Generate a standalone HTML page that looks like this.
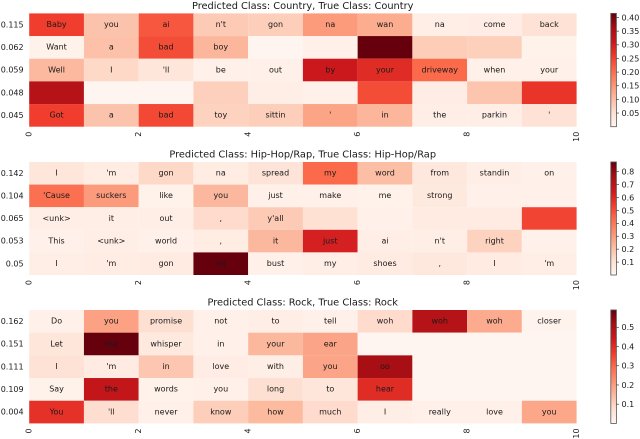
<!DOCTYPE html>
<html>
<head>
<meta charset="utf-8">
<title>Predicted class heatmaps</title>
<style>
html,body{margin:0;padding:0;background:#fff;}
body{width:640px;height:439px;overflow:hidden;}
svg{display:block;}
text{font-family:"DejaVu Sans","Liberation Sans",sans-serif;fill:#1a1a1a;}
</style>
</head>
<body>
<svg id="chart" xmlns="http://www.w3.org/2000/svg" width="640" height="439" viewBox="0 0 640 439"></svg>
<script>
const countryScores = ["0.115","0.062","0.059","0.048","0.045"];
const countryWords = [
  ["Baby","you","ai","n't","gon","na","wan","na","come","back"],
  ["Want","a","bad","boy","","","","","",""],
  ["Well","I","'ll","be","out","by","your","driveway","when","your"],
  ["","","","","","","","","",""],
  ["Got","a","bad","toy","sittin","'","in","the","parkin","'"]
];
const countryValues = [
  [0.257,0.092,0.228,0.083,0.076,0.145,0.122,0.017,0.021,0.046],
  [0.008,0.096,0.241,0.110,0.000,0.012,0.415,0.079,0.075,0.008],
  [0.106,0.062,0.038,0.012,0.012,0.311,0.282,0.208,0.012,0.012],
  [0.340,0.000,0.000,0.074,0.017,0.012,0.241,0.021,0.090,0.270],
  [0.257,0.092,0.245,0.072,0.076,0.133,0.110,0.017,0.017,0.046]
];
const countryTicks = ["0.05","0.10","0.15","0.20","0.25","0.30","0.35","0.40"];

const hiphopScores = ["0.142","0.104","0.065","0.053","0.05"];
const hiphopWords = [
  ["I","'m","gon","na","spread","my","word","from","standin","on"],
  ["'Cause","suckers","like","you","just","make","me","strong","",""],
  ["<unk>","it","out",",","y'all","","","","",""],
  ["This","<unk>","world",",","it","just","ai","n't","right",""],
  ["I","'m","gon","na","bust","my","shoes",",","I","'m"]
];
const hiphopValues = [
  [0.079,0.044,0.131,0.044,0.088,0.438,0.210,0.070,0.035,0.026],
  [0.420,0.306,0.018,0.226,0.026,0.026,0.018,0.061,0.026,0.026],
  [0.035,0.035,0.035,0.123,0.175,0.105,0.026,0.053,0.053,0.525],
  [0.026,0.035,0.026,0.044,0.226,0.630,0.035,0.035,0.149,0.026],
  [0.035,0.044,0.053,0.875,0.026,0.035,0.053,0.070,0.053,0.035]
];
const hiphopTicks = ["0.1","0.2","0.3","0.4","0.5","0.6","0.7","0.8"];

const rockScores = ["0.162","0.151","0.111","0.109","0.004"];
const rockWords = [
  ["Do","you","promise","not","to","tell","woh","woh","woh","closer"],
  ["Let","me","whisper","in","your","ear","","","",""],
  ["I","'m","in","love","with","you","oo","","",""],
  ["Say","the","words","you","long","to","hear","","",""],
  ["You","'ll","never","know","how","much","I","really","love","you"]
];
const rockValues = [
  [0.018,0.195,0.074,0.018,0.024,0.018,0.083,0.484,0.177,0.006],
  [0.053,0.590,0.041,0.018,0.153,0.189,0.000,0.000,0.000,0.000],
  [0.065,0.035,0.125,0.030,0.024,0.189,0.513,0.000,0.000,0.000],
  [0.012,0.460,0.012,0.018,0.074,0.053,0.401,0.000,0.000,0.000],
  [0.389,0.077,0.018,0.110,0.150,0.083,0.024,0.018,0.018,0.183]
];
const rockTicks = ["0.1","0.2","0.3","0.4","0.5"];

const xTickLabels = ["0","2","4","6","8","10"];
const redsStops = ["#fff5f0","#fee0d2","#fcbba1","#fc9272","#fb6a4a","#ef3b2c","#cb181d","#a50f15","#67000d"];

const SVG_NS = "http://www.w3.org/2000/svg";
const chart = document.getElementById("chart");
const plotLeft = 29.2, plotRight = 576.6, cbLeft = 610.8, cbRight = 616.4;

function hexToRgb(h){
  return [parseInt(h.slice(1,3),16),parseInt(h.slice(3,5),16),parseInt(h.slice(5,7),16)];
}
function reds(t){
  const c = Math.max(0,Math.min(1,t))*(redsStops.length-1);
  const i = Math.min(Math.floor(c),redsStops.length-2);
  const f = c-i, a = hexToRgb(redsStops[i]), b = hexToRgb(redsStops[i+1]);
  return "rgb("+a.map((v,k)=>Math.round(v+(b[k]-v)*f)).join(",")+")";
}
function make(tag,parent){
  const el = document.createElementNS(SVG_NS,tag);
  parent.appendChild(el);
  return el;
}
function setAll(el,props){
  for(const k in props){el.setAttribute(k,props[k]);}
  return el;
}
function addText(parent,str,x,y,size,anchor){
  const t = make("text",parent);
  setAll(t,{x:x,y:y,"font-size":size,"text-anchor":anchor});
  t.textContent = str;
  return t;
}

function drawPanel(key,title,titleY,top,bottom,scores,words,values,ticks,vmin,vmax){
  const nRows = values.length, nCols = values[0].length;
  const xScale = c => plotLeft + (plotRight-plotLeft)*c/nCols;
  const yScale = r => top + (bottom-top)*r/nRows;
  const colorScale = v => reds((v-vmin)/(vmax-vmin));
  const cbScale = v => bottom - (bottom-top)*(v-vmin)/(vmax-vmin);

  const g = make("g",chart);
  
  

  const titleEl = addText(g,title,302.7,titleY,9.8,"middle");
  
  

  for(let r=0;r<nRows;r++){
    for(let c=0;c<nCols;c++){
      const cell = make("rect",g);
      setAll(cell,{x:xScale(c),y:yScale(r),width:xScale(c+1)-xScale(c),height:yScale(r+1)-yScale(r),fill:colorScale(values[r][c])});
      
      
    }
  }
  for(let r=0;r<nRows;r++){
    for(let c=0;c<nCols;c++){
      if(!words[r][c]) continue;
      const w = addText(g,words[r][c],(xScale(c)+xScale(c+1))/2,(yScale(r)+yScale(r+1))/2+2.3,8,"middle");
      
      
    }
    const s = addText(g,scores[r],23.6,(yScale(r)+yScale(r+1))/2+2.6,8,"end");
    
    
  }
  xTickLabels.forEach(label=>{
    const x = xScale(parseFloat(label));
    const t = addText(g,label,x,bottom+5,8,"end");
    t.setAttribute("transform","rotate(-90 "+x+" "+(bottom+5)+")");
    t.setAttribute("text-anchor","end");
    t.setAttribute("dominant-baseline","central");
    
    
  });

  const cb = make("g",g);
  
  
  const steps = 60;
  for(let i=0;i<steps;i++){
    const f0 = i/steps, f1 = (i+1)/steps;
    const band = make("rect",cb);
    setAll(band,{x:cbLeft,y:bottom-(bottom-top)*f1-0.2,width:cbRight-cbLeft,height:(bottom-top)/steps+0.4,fill:reds((f0+f1)/2)});
  }
  const frame = make("rect",cb);
  setAll(frame,{x:cbLeft,y:top,width:cbRight-cbLeft,height:bottom-top,fill:"none",stroke:"#555","stroke-width":0.8});
  ticks.forEach(label=>{
    const v = parseFloat(label), y = cbScale(v);
    const tk = make("line",cb);
    setAll(tk,{x1:cbRight,x2:cbRight+2.6,y1:y,y2:y,stroke:"#444","stroke-width":0.7});
    const t = addText(cb,label,621.5,y+2.9,8,"start");
    
    
  });
}

drawPanel("country","Predicted Class: Country, True Class: Country",9,13.4,126.7,countryScores,countryWords,countryValues,countryTicks,0,0.415);
drawPanel("hiphop","Predicted Class: Hip-Hop/Rap, True Class: Hip-Hop/Rap",157.6,162,275,hiphopScores,hiphopWords,hiphopValues,hiphopTicks,0,0.875);
drawPanel("rock","Predicted Class: Rock, True Class: Rock",305.6,310,423.4,rockScores,rockWords,rockValues,rockTicks,0,0.59);
</script>
</body>
</html>
